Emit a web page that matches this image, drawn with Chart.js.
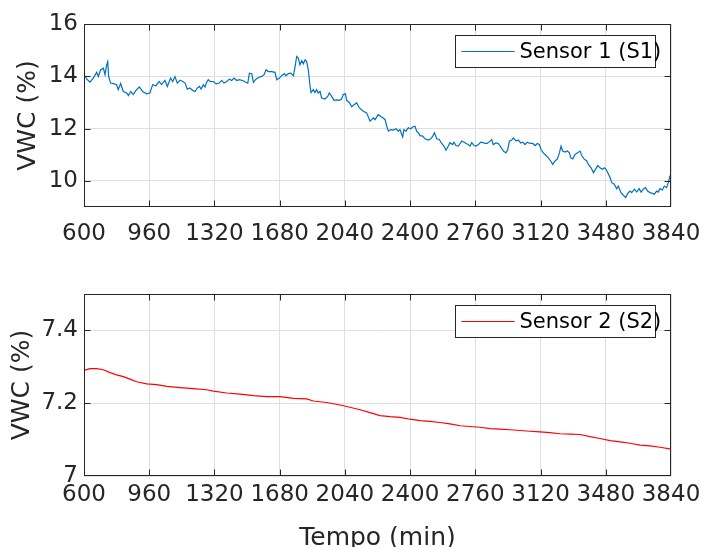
<!DOCTYPE html>
<html>
<head>
<meta charset="utf-8">
<script src="https://cdn.jsdelivr.net/npm/chart.js@4.4.0/dist/chart.umd.min.js"></script>
<style>
  html, body { margin: 0; padding: 0; background: #fff; }
  #wrap { position: relative; width: 706px; height: 547px; overflow: hidden; }
  canvas { position: absolute; left: 0; }
</style>
</head>
<body>
<div id="wrap">
  <canvas id="chartS1" width="706" height="270" style="top:0"></canvas>
  <canvas id="chartS2" width="706" height="277" style="top:270px"></canvas>
</div>
<script>
// ---- data ----
const timeTicks = [600, 960, 1320, 1680, 2040, 2400, 2760, 3120, 3480, 3840];
const s1Ticks = [10, 12, 14, 16];
const s2Ticks = [7, 7.2, 7.4];

// Sensor 1 (S1): tempo (min) / VWC (%)
const s1Time = [
  605, 618, 633, 651, 670, 679, 692, 707, 716, 725, 731, 736, 747, 762, 780, 789,
  802, 817, 836, 845, 858, 872, 887, 905, 924, 946, 964, 979, 997, 1015, 1028, 1047,
  1060, 1078, 1090, 1102, 1115, 1130, 1145, 1158, 1170, 1185, 1200, 1213, 1225, 1237, 1246, 1259,
  1268, 1277, 1286, 1296, 1314, 1329, 1347, 1360, 1373, 1388, 1402, 1415, 1428, 1443, 1457, 1479,
  1494, 1504, 1513, 1526, 1535, 1549, 1568, 1581, 1594, 1605, 1617, 1636, 1654, 1664, 1678, 1691,
  1706, 1715, 1728, 1741, 1756, 1765, 1774, 1783, 1792, 1802, 1811, 1820, 1829, 1838, 1848, 1853,
  1866, 1875, 1884, 1893, 1903, 1912, 1930, 1945, 1954, 1967, 1980, 1995, 2009, 2022, 2031, 2043,
  2050, 2064, 2078, 2090, 2105, 2120, 2142, 2160, 2179, 2197, 2206, 2224, 2249, 2262, 2271, 2280,
  2293, 2308, 2322, 2335, 2344, 2354, 2359, 2366, 2377, 2390, 2403, 2414, 2427, 2436, 2445, 2455,
  2470, 2482, 2501, 2514, 2525, 2534, 2547, 2561, 2574, 2587, 2598, 2611, 2620, 2635, 2642, 2653,
  2666, 2676, 2685, 2698, 2709, 2721, 2731, 2740, 2753, 2764, 2777, 2790, 2804, 2813, 2826, 2841,
  2850, 2859, 2874, 2887, 2900, 2915, 2929, 2939, 2948, 2961, 2970, 2985, 2997, 3011, 3022, 3034,
  3047, 3062, 3077, 3090, 3102, 3113, 3123, 3135, 3150, 3163, 3176, 3187, 3200, 3213, 3224, 3233,
  3242, 3255, 3268, 3279, 3287, 3298, 3310, 3323, 3338, 3347, 3360, 3375, 3384, 3399, 3412, 3425,
  3436, 3448, 3461, 3472, 3480, 3491, 3504, 3513, 3527, 3540, 3549, 3564, 3577, 3590, 3601, 3614,
  3623, 3638, 3651, 3664, 3675, 3687, 3700, 3711, 3724, 3737, 3748, 3761, 3770, 3779, 3792, 3803,
  3816, 3825, 3834, 3840
];
const s1Vwc = [
  14.02, 13.87, 13.78, 13.93, 14.15, 13.99, 14.25, 14.31, 14.06, 14.44, 14.56, 13.99, 13.74, 13.72, 13.68, 13.49,
  13.72, 13.42, 13.36, 13.26, 13.42, 13.30, 13.46, 13.59, 13.42, 13.33, 13.36, 13.68, 13.64, 13.80, 13.68, 13.84,
  13.61, 13.93, 13.80, 13.99, 13.74, 13.85, 13.80, 13.74, 13.51, 13.55, 13.46, 13.42, 13.55, 13.61, 13.51, 13.68,
  13.59, 13.77, 13.87, 13.80, 13.80, 13.71, 13.74, 13.84, 13.74, 13.80, 13.89, 13.84, 13.93, 13.84, 13.87, 13.83,
  13.77, 13.74, 14.12, 14.10, 13.77, 13.89, 13.97, 13.99, 14.06, 14.25, 14.18, 14.18, 14.15, 13.87, 13.93, 14.02,
  14.10, 14.02, 14.10, 14.12, 14.02, 14.37, 14.76, 14.70, 14.44, 14.60, 14.48, 14.63, 14.56, 14.25, 13.61, 13.38,
  13.49, 13.38, 13.49, 13.36, 13.42, 13.17, 13.13, 13.23, 13.36, 13.23, 13.08, 13.10, 13.08, 13.13, 13.30, 13.33,
  13.08, 13.00, 12.83, 12.91, 12.98, 12.79, 12.66, 12.60, 12.28, 12.41, 12.34, 12.53, 12.41, 12.34, 12.09, 11.90,
  11.96, 11.94, 11.99, 11.90, 11.96, 11.77, 11.68, 11.96, 11.90, 12.03, 11.99, 12.06, 12.09, 11.90, 11.84, 11.73,
  11.71, 11.61, 11.56, 11.61, 11.71, 11.84, 11.61, 11.58, 11.43, 11.33, 11.17, 11.33, 11.46, 11.39, 11.48, 11.35,
  11.33, 11.43, 11.52, 11.48, 11.43, 11.39, 11.33, 11.46, 11.35, 11.33, 11.39, 11.48, 11.46, 11.43, 11.43, 11.52,
  11.58, 11.39, 11.45, 11.43, 11.30, 11.14, 11.07, 11.20, 11.52, 11.56, 11.64, 11.52, 11.56, 11.45, 11.48, 11.39,
  11.48, 11.43, 11.43, 11.35, 11.43, 11.39, 11.20, 11.07, 10.97, 10.88, 10.76, 10.63, 10.76, 10.84, 11.07, 11.33,
  11.14, 11.10, 11.14, 11.07, 10.88, 10.84, 11.01, 11.07, 11.14, 10.97, 10.84, 10.76, 10.63, 10.50, 10.31, 10.46,
  10.59, 10.50, 10.44, 10.50, 10.46, 10.31, 10.12, 9.93, 9.87, 9.70, 9.80, 9.55, 9.45, 9.36, 9.52, 9.61,
  9.55, 9.68, 9.57, 9.70, 9.57, 9.68, 9.74, 9.61, 9.55, 9.52, 9.49, 9.61, 9.57, 9.70, 9.65, 9.80,
  9.74, 9.93, 10.18, 10.25
];

// Sensor 2 (S2)
const s2Time = [
  600, 633, 670, 707, 744, 780, 817, 854, 891, 946, 1001, 1057, 1130, 1203, 1277, 1314,
  1388, 1461, 1535, 1609, 1682, 1756, 1829, 1866, 1940, 2013, 2050, 2124, 2179, 2234, 2289, 2344,
  2400, 2455, 2510, 2565, 2620, 2676, 2731, 2786, 2841, 2896, 2952, 3007, 3062, 3117, 3172, 3228,
  3283, 3338, 3393, 3448, 3504, 3559, 3614, 3669, 3724, 3780, 3840
];
const s2Vwc = [
  7.290, 7.295, 7.295, 7.292, 7.284, 7.278, 7.273, 7.266, 7.259, 7.253, 7.251, 7.246, 7.243, 7.240, 7.237, 7.233,
  7.228, 7.225, 7.221, 7.218, 7.218, 7.213, 7.212, 7.206, 7.202, 7.195, 7.191, 7.182, 7.174, 7.166, 7.163, 7.161,
  7.156, 7.152, 7.150, 7.147, 7.143, 7.138, 7.136, 7.134, 7.130, 7.129, 7.127, 7.125, 7.123, 7.121, 7.119, 7.116,
  7.115, 7.114, 7.108, 7.103, 7.097, 7.094, 7.090, 7.085, 7.083, 7.079, 7.074
];

Chart.defaults.font.family = "'DejaVu Sans', sans-serif";
Chart.defaults.color = '#262626';
Chart.defaults.animation = false;

// box + inward ticks + legend, MATLAB look
const matlabAxes = {
  id: 'matlabAxes',
  afterDatasetsDraw(chart) {
    const { ctx, chartArea: a, scales } = chart;
    const L = Math.round(a.left) + 0.5, R = Math.round(a.right) - 0.5;
    const T = Math.round(a.top) + 0.5, B = Math.round(a.bottom) - 0.5;
    ctx.save();
    ctx.strokeStyle = '#262626';
    ctx.lineWidth = 1;
    ctx.strokeRect(L, T, R - L, B - T);
    ctx.beginPath();
    scales.x.ticks.forEach(t => {
      let px = Math.round(scales.x.getPixelForValue(t.value)) + 0.5;
      px = Math.min(Math.max(px, L), R);
      ctx.moveTo(px, B); ctx.lineTo(px, B - 6);
      ctx.moveTo(px, T); ctx.lineTo(px, T + 6);
    });
    scales.y.ticks.forEach(t => {
      let py = Math.round(scales.y.getPixelForValue(t.value)) + 0.5;
      py = Math.min(Math.max(py, T), B);
      ctx.moveTo(L, py); ctx.lineTo(L + 6, py);
      ctx.moveTo(R, py); ctx.lineTo(R - 6, py);
    });
    ctx.stroke();

    // legend
    const ds = chart.data.datasets[0];
    const x1 = R - 15, x0 = x1 - 200, y0 = T + 11, h = 32;
    ctx.fillStyle = '#fff';
    ctx.fillRect(x0, y0, x1 - x0, h);
    ctx.strokeRect(x0, y0, x1 - x0, h);
    ctx.beginPath();
    ctx.strokeStyle = ds.borderColor;
    ctx.moveTo(x0 + 6, y0 + h / 2);
    ctx.lineTo(x0 + 59, y0 + h / 2);
    ctx.stroke();
    ctx.fillStyle = '#000';
    ctx.font = "21px 'DejaVu Sans'";
    ctx.textBaseline = 'middle';
    ctx.fillText(ds.label, x0 + 64, y0 + h / 2 + 1);
    ctx.restore();
  }
};

function makeChart(id, label, color, xs, ys, yMin, yMax, yTicks, opts) {
  const points = xs.map((x, i) => ({ x: x, y: ys[i] }));
  return new Chart(document.getElementById(id), {
    type: 'line',
    data: {
      datasets: [{
        label: label,
        data: points,
        borderColor: color,
        borderWidth: 1.2,
        pointRadius: 0,
        tension: 0,
        fill: false
      }]
    },
    options: {
      responsive: false,
      animation: false,
      layout: { padding: { top: 24, right: 35, left: 0, bottom: 0 } },
      plugins: { legend: { display: false }, tooltip: { enabled: false } },
      scales: {
        x: {
          type: 'linear',
          min: 600,
          max: 3840,
          border: { display: false },
          grid: { color: '#dfdfdf', drawTicks: false },
          afterBuildTicks: s => { s.ticks = timeTicks.map(v => ({ value: v })); },
          afterFit: s => {
            s.height = opts.xHeight;
            s.paddingLeft = 0;
            s.paddingRight = 0;
          },
          ticks: {
            autoSkip: false,
            maxRotation: 0,
            padding: opts.xPad,
            font: { size: 23 },
            callback: v => String(v)
          },
          title: opts.xTitle ? {
            display: true,
            text: opts.xTitle,
            font: { size: 25 },
            padding: { top: 0, bottom: opts.xTitlePad }
          } : { display: false }
        },
        y: {
          min: yMin,
          max: yMax,
          border: { display: false },
          grid: { color: '#dfdfdf', drawTicks: false },
          afterBuildTicks: s => { s.ticks = yTicks.map(v => ({ value: v })); },
          afterFit: s => {
            s.width = 84;
            s.paddingTop = 0;
            s.paddingBottom = 0;
          },
          ticks: {
            padding: 6,
            font: { size: 23 },
            callback: v => String(v)
          },
          title: {
            display: true,
            text: 'VWC (%)',
            font: { size: 25 },
            padding: { top: opts.yTitlePad, bottom: 0 }
          }
        }
      }
    },
    plugins: [matlabAxes]
  });
}

makeChart('chartS1', 'Sensor 1 (S1)', '#0072BD', s1Time, s1Vwc, 9, 16, s1Ticks,
  { xHeight: 63, xPad: 13, yTitlePad: 13 });
makeChart('chartS2', 'Sensor 2 (S2)', '#FF0000', s2Time, s2Vwc, 7, 7.5, s2Ticks,
  { xHeight: 71, xPad: 5, xTitle: 'Tempo (min)', xTitlePad: -6, yTitlePad: 7 });
</script>
</body>
</html>
